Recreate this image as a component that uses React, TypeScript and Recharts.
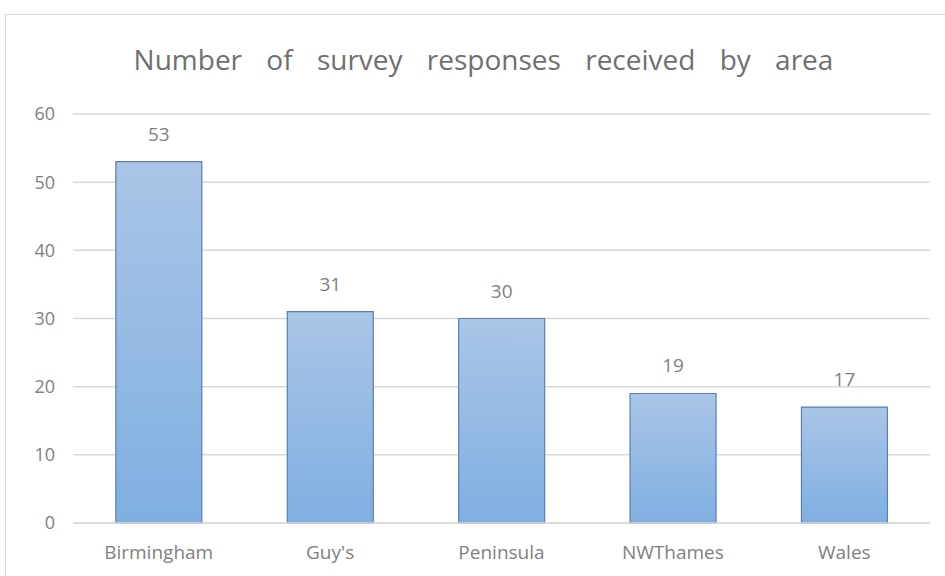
import React from "react";
import { BarChart, Bar, XAxis, YAxis, CartesianGrid, LabelList } from "recharts";

const areas = ["Birmingham", "Guy's", "Peninsula", "NWThames", "Wales"];
const responses = [53, 31, 30, 19, 17];
const yTicks = [0, 10, 20, 30, 40, 50, 60];
const title = "Number of survey responses received by area";

const data = areas.map((a, i) => ({ area: a, value: responses[i] }));
const FONT = "'Open Sans', 'Noto Sans', sans-serif";

export default function App() {
  return (
    <div style={{ position: "absolute", left: 0, top: 0, width: 945, height: 576, overflow: "hidden", background: "#fff", fontFamily: FONT }}>
      <div style={{ position: "absolute", left: 5, top: 14, width: 960, height: 600, border: "1px solid #d9d9d9" }} />
      <div style={{ position: "absolute", left: 11, top: 40, width: 945, textAlign: "center", fontSize: 28, color: "#707070", wordSpacing: 17 }}>
        {title}
      </div>
      <div style={{ position: "absolute", left: 0, top: 0 }}>
        <BarChart width={945} height={576} data={data} margin={{ top: 114, right: 15, bottom: 0, left: 0 }} barCategoryGap="25%">
          <defs>
            <linearGradient id="barGrad" x1="0" y1="0" x2="0" y2="1">
              <stop offset="0%" stopColor="#aac5e7" />
              <stop offset="100%" stopColor="#7fafe1" />
            </linearGradient>
          </defs>
          <CartesianGrid vertical={false} stroke="#d9d9d9" strokeWidth={1.5} />
          <XAxis dataKey="area" height={53} axisLine={{ stroke: "#d9d9d9", strokeWidth: 1.5 }} tickLine={false} tickMargin={17}
            tick={{ fill: "#7f7f7f", fontSize: 19, fontFamily: FONT }} />
          <YAxis width={73} domain={[0, 60]} ticks={yTicks} axisLine={false} tickLine={false} tickMargin={12}
            tick={{ fill: "#7f7f7f", fontSize: 18, fontFamily: FONT }} />
          <Bar dataKey="value" fill="url(#barGrad)" stroke="#5a7fb5" strokeWidth={1.2} isAnimationActive={false}>
            <LabelList dataKey="value" position="top" offset={21} fill="#7f7f7f" fontSize={19} fontFamily={FONT} />
          </Bar>
        </BarChart>
      </div>
    </div>
  );
}
